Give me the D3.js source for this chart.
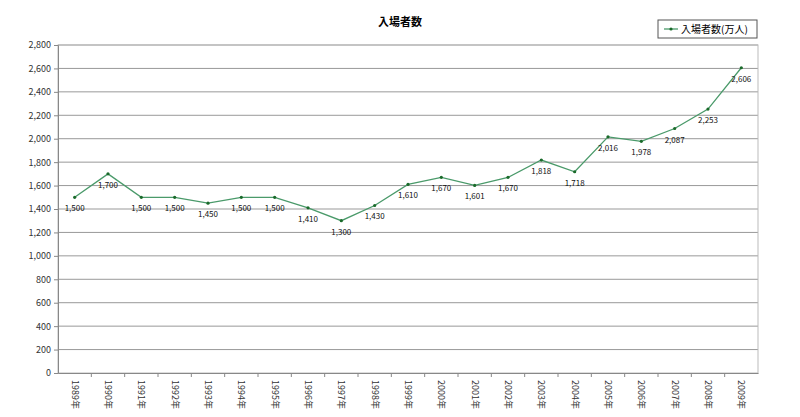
<!DOCTYPE html><html><head><meta charset="utf-8"><script src="https://cdn.jsdelivr.net/npm/d3@7"></script>
<style>body{margin:0;background:#fff}text{font-family:"Noto Sans CJK JP",sans-serif}</style></head><body><svg id="c" width="800" height="417"></svg><script>
const years=["1989年","1990年","1991年","1992年","1993年","1994年","1995年","1996年","1997年","1998年","1999年","2000年","2001年","2002年","2003年","2004年","2005年","2006年","2007年","2008年","2009年"];
const values=[1500,1700,1500,1500,1450,1500,1500,1410,1300,1430,1610,1670,1601,1670,1818,1718,2016,1978,2087,2253,2606];
const yTicks=d3.range(0,2801,200);
const svg=d3.select("#c");
const L=58,R=758,T=45,B=373;
const x=d3.scaleBand().domain(years).range([L,R]);
const y=d3.scaleLinear().domain([0,2800]).range([B,T]);
svg.append("g").selectAll("line").data(yTicks.slice(1)).join("line").attr("x1",L).attr("x2",R).attr("y1",d=>y(d)).attr("y2",d=>y(d)).attr("stroke","#999").attr("stroke-width",1);
svg.append("rect").attr("x",L).attr("y",T).attr("width",R-L).attr("height",B-T).attr("fill","none").attr("stroke","#bbb");
const ya=svg.append("g").attr("transform",`translate(${L},0)`).call(d3.axisLeft(y).tickValues(yTicks).tickFormat(d3.format(",")).tickSize(4));
ya.selectAll("text").attr("font-size",9).attr("fill","#333");ya.selectAll("line,path").attr("stroke","#888");
const xa=svg.append("g").attr("transform",`translate(0,${B})`).call(d3.axisBottom(x).tickSize(0).tickFormat(""));
xa.select("path").attr("stroke","#888");
svg.append("g").selectAll("line").data(years.slice(1)).join("line").attr("x1",d=>x(d)).attr("x2",d=>x(d)).attr("y1",B).attr("y2",B+4).attr("stroke","#888");
svg.append("g").selectAll("text").data(years).join("text").attr("transform",d=>`translate(${x(d)+x.bandwidth()/2-3},${B+7}) rotate(90)`).attr("font-size",9).attr("fill","#333").text(d=>d);
const cx=d=>x(d)+x.bandwidth()/2;
svg.append("path").datum(values).attr("fill","none").attr("stroke","#4a9a6a").attr("stroke-width",1.3).attr("d",d3.line().x((d,i)=>cx(years[i])).y(d=>y(d)));
svg.append("g").selectAll("circle").data(values).join("circle").attr("cx",(d,i)=>cx(years[i])).attr("cy",d=>y(d)).attr("r",1.6).attr("fill","#1a6a2a");
svg.append("g").selectAll("text").data(values).join("text").attr("x",(d,i)=>cx(years[i])).attr("y",d=>y(d)+14).attr("text-anchor","middle").attr("font-size",8).attr("fill","#111").text(d=>d3.format(",")(d));
svg.append("text").attr("x",400).attr("y",26).attr("text-anchor","middle").attr("font-size",11).attr("font-weight","bold").text("入場者数");
svg.append("rect").attr("x",658).attr("y",20).attr("width",99).attr("height",18).attr("fill","#fff").attr("stroke","#555");
svg.append("line").attr("x1",664).attr("x2",678).attr("y1",29).attr("y2",29).attr("stroke","#4a9a6a").attr("stroke-width",1.3);
svg.append("circle").attr("cx",671).attr("cy",29).attr("r",1.6).attr("fill","#1a6a2a");
svg.append("text").attr("x",681).attr("y",33).attr("font-size",10).text("入場者数(万人)");
</script></body></html>
